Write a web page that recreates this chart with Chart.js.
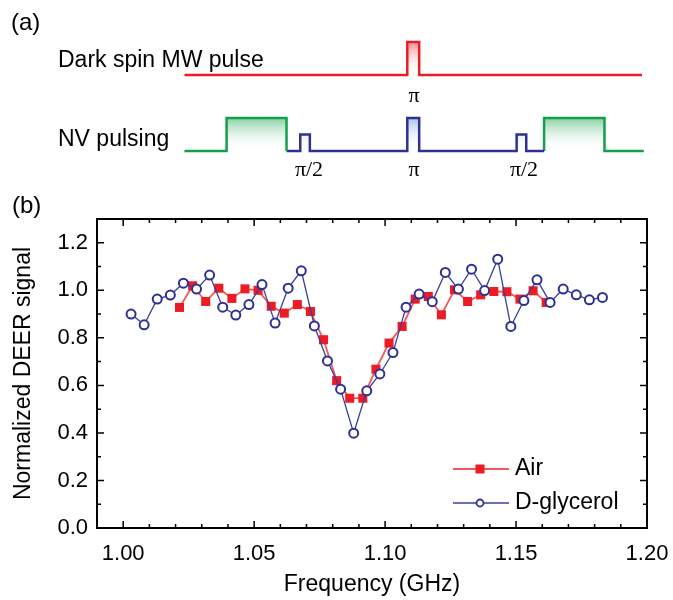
<!DOCTYPE html>
<html>
<head>
<meta charset="utf-8">
<script src="https://cdn.jsdelivr.net/npm/chart.js@4.4.0/dist/chart.umd.min.js"></script>
<style>
body{margin:0;background:#fff;}
#wrap{position:relative;width:673px;height:600px;font-family:"Liberation Sans",Arial,sans-serif;color:#000;}
#wrap canvas{position:absolute;left:0;top:0;}
.lbl{position:absolute;white-space:nowrap;font-size:23px;line-height:23px;}
.pnl{position:absolute;white-space:nowrap;font-size:24px;line-height:24px;}
.pi{position:absolute;white-space:nowrap;font-family:"Liberation Serif","Times New Roman",serif;font-size:22px;line-height:22px;transform:translate(-50%,-50%);}
</style>
</head>
<body>
<div id="wrap">
<canvas id="myBar" width="673" height="600"></canvas>
<canvas id="pulses" width="673" height="200"></canvas>
<div class="pnl" style="left:11px;top:10px;">(a)</div>
<div class="lbl" style="left:58px;top:48px;">Dark spin MW pulse</div>
<div class="lbl" style="left:58px;top:127px;">NV pulsing</div>
<div class="pi" style="left:414px;top:95px;">π</div>
<div class="pi" style="left:309px;top:169px;">π/2</div>
<div class="pi" style="left:414px;top:169px;">π</div>
<div class="pi" style="left:524px;top:169px;">π/2</div>
<div class="pnl" style="left:12px;top:193px;">(b)</div>
</div>
<script>
// D A T O S  (b)
var freqAir = [1.0215, 1.0265, 1.0315, 1.0365, 1.0415, 1.0465, 1.0515, 1.0565, 1.0615, 1.0665,
               1.0715, 1.0765, 1.0815, 1.0865, 1.0915, 1.0965, 1.1015, 1.1065, 1.1115, 1.1165,
               1.1215, 1.1265, 1.1315, 1.1365, 1.1415, 1.1465, 1.1515, 1.1565, 1.1615];
var signalAir = [0.928, 1.019, 0.953, 1.009, 0.966, 1.006, 1.000, 0.933, 0.904, 0.940,
                 0.911, 0.792, 0.620, 0.546, 0.546, 0.668, 0.778, 0.848, 0.963, 0.974,
                 0.897, 1.002, 0.953, 0.981, 0.995, 0.994, 0.963, 0.998, 0.949];
var freqGly = [1.003, 1.008, 1.013, 1.018, 1.023, 1.028, 1.033, 1.038, 1.043, 1.048,
               1.053, 1.058, 1.063, 1.068, 1.073, 1.078, 1.083, 1.088, 1.093, 1.098,
               1.103, 1.108, 1.113, 1.118, 1.123, 1.128, 1.133, 1.138, 1.143, 1.148,
               1.153, 1.158, 1.163, 1.168, 1.173, 1.178, 1.183];
var signalGly = [0.900, 0.855, 0.963, 0.980, 1.030, 1.005, 1.064, 0.929, 0.896, 0.940,
                 1.024, 0.862, 1.009, 1.082, 0.850, 0.703, 0.584, 0.399, 0.577, 0.648,
                 0.738, 0.929, 0.984, 0.952, 1.075, 1.005, 1.089, 0.999, 1.131, 0.848,
                 0.957, 1.044, 0.949, 1.005, 0.981, 0.960, 0.970];
var freqTicks = [1.00, 1.05, 1.10, 1.15, 1.20];

// D A T O S  (a)  tiempos en unidades arbitrarias, amplitud relativa
var mwChannel = 2.3;
var nvChannel = 0;
var mwTime = [0, 48.7, 48.7, 51.3, 51.3, 100];
var mwAmp = [0, 0, 1, 1, 0, 0];
var laserTime1 = [0, 9.2, 9.2, 22.3, 22.3];
var laserAmp1 = [0, 0, 1, 1, 0];
var nvMwTime = [22.3, 25.3, 25.3, 27.4, 27.4, 48.7, 48.7, 51.3, 51.3, 72.6, 72.6, 74.7, 74.7, 78.6];
var nvMwAmp = [0, 0, 0.5, 0.5, 0, 0, 1, 1, 0, 0, 0.5, 0.5, 0, 0];
var laserTime2 = [78.6, 78.6, 91.8, 91.8, 100.4];
var laserAmp2 = [0, 1, 1, 0, 0];

Chart.defaults.font.family = '"Liberation Sans", Arial, sans-serif';
Chart.defaults.color = '#000';

function toPoints(xs, ys, offset){
    return xs.map((x, i) => ({x: x, y: ys[i] + (offset || 0)}));
}

// P U L S O S
function pulseFill(chart, base, colour){
    if(!chart.chartArea){
        return colour;
    }
    var y = chart.scales.y;
    var g = chart.ctx.createLinearGradient(0, y.getPixelForValue(base + 1), 0, y.getPixelForValue(base));
    g.addColorStop(0, colour);
    g.addColorStop(1, 'rgba(255,255,255,0)');
    return g;
}
function pulseSet(xs, ys, base, line, fillColour){
    return {
        data: toPoints(xs, ys, base),
        borderColor: line,
        borderWidth: 2.5,
        pointRadius: 0,
        tension: 0,
        fill: {value: base},
        backgroundColor: ctx => pulseFill(ctx.chart, base, fillColour)
    };
}
const pulseConfig = {
    type: "line",
    data: {
        datasets: [
            pulseSet(mwTime, mwAmp, mwChannel, '#ed1c24', 'rgba(237,28,36,0.5)'),
            pulseSet(laserTime1, laserAmp1, nvChannel, '#12a04a', 'rgba(18,160,74,0.5)'),
            pulseSet(nvMwTime, nvMwAmp, nvChannel, '#2e3192', 'rgba(70,120,210,0.45)'),
            pulseSet(laserTime2, laserAmp2, nvChannel, '#12a04a', 'rgba(18,160,74,0.5)')
        ]
    },
    options: {
        responsive: false,
        animation: false,
        plugins: {legend: {display: false}, tooltip: {enabled: false}},
        scales: {
            x: {type: 'linear', display: false, min: -40.33, max: 106.78},
            y: {display: false, min: -1.485, max: 4.576}
        }
    }
};
new Chart(document.getElementById("pulses").getContext('2d'), pulseConfig);

// M A R C O  Y  T I C K S  hacia dentro
const frameTicks = {
    id: 'frameTicks',
    afterDraw(chart){
        const ctx = chart.ctx;
        const a = chart.chartArea;
        const x = chart.scales.x;
        const y = chart.scales.y;
        ctx.save();
        ctx.strokeStyle = '#000';
        ctx.lineWidth = 1.5;
        ctx.beginPath();
        for(let k = 0; k <= 20; k++){
            const px = x.getPixelForValue(1 + k * 0.01);
            const len = (k % 5 == 0) ? 7 : 4;
            ctx.moveTo(px, a.bottom); ctx.lineTo(px, a.bottom - len);
            ctx.moveTo(px, a.top); ctx.lineTo(px, a.top + len);
        }
        for(let k = 0; k <= 12; k++){
            const py = y.getPixelForValue(k * 0.1);
            const len = (k % 2 == 0) ? 7 : 4;
            ctx.moveTo(a.left, py); ctx.lineTo(a.left + len, py);
            ctx.moveTo(a.right, py); ctx.lineTo(a.right - len, py);
        }
        ctx.stroke();
        ctx.lineWidth = 2;
        ctx.strokeRect(a.left, a.top, a.right - a.left, a.bottom - a.top);
        ctx.restore();
    }
};

// L E Y E N D A  dentro del area
const insideLegend = {
    id: 'insideLegend',
    afterDatasetsDraw(chart){
        const ctx = chart.ctx;
        const a = chart.chartArea;
        const x0 = a.right - 194;
        const rows = [a.bottom - 59, a.bottom - 25];
        ctx.save();
        chart.data.datasets.forEach((ds, i) => {
            const yy = rows[i];
            ctx.strokeStyle = ds.borderColor;
            ctx.lineWidth = ds.borderWidth;
            ctx.beginPath();
            ctx.moveTo(x0, yy);
            ctx.lineTo(x0 + 56, yy);
            ctx.stroke();
            const mx = x0 + 27;
            if(ds.pointStyle == 'rect'){
                ctx.fillStyle = ds.pointBackgroundColor;
                ctx.fillRect(mx - 4.5, yy - 4.5, 9, 9);
            }else{
                ctx.fillStyle = '#fff';
                ctx.strokeStyle = ds.pointBorderColor;
                ctx.lineWidth = 1.8;
                ctx.beginPath();
                ctx.arc(mx, yy, 3.5, 0, Math.PI * 2);
                ctx.fill();
                ctx.stroke();
            }
            ctx.fillStyle = '#000';
            ctx.font = '23px "Liberation Sans", Arial, sans-serif';
            ctx.textBaseline = 'middle';
            ctx.fillText(ds.label, x0 + 62, yy);
        });
        ctx.restore();
    }
};

// D E E R
const data = {
    datasets: [
    {
        label: "Air",
        data: toPoints(freqAir, signalAir),
        borderColor: 'rgba(240,70,78,0.9)',
        borderWidth: 1.8,
        pointStyle: 'rect',
        pointRadius: 6.4,
        pointBorderWidth: 0,
        pointBackgroundColor: '#ed1c24',
        pointBorderColor: '#ed1c24',
        tension: 0,
        order: 1
    },
    {
        label: "D-glycerol",
        data: toPoints(freqGly, signalGly),
        borderColor: '#3b3f9b',
        borderWidth: 1.3,
        pointStyle: 'circle',
        pointRadius: 4.5,
        pointBorderWidth: 2,
        pointBackgroundColor: '#fff',
        pointBorderColor: '#2e3192',
        tension: 0,
        order: 0
    }]
};
const config = {
    type: "line",
    data: data,
    options: {
        responsive: false,
        animation: false,
        layout: {padding: {top: 219, right: 26, bottom: 0, left: 0}},
        plugins: {legend: {display: false}, tooltip: {enabled: false}},
        scales: {
            x: {
                type: 'linear',
                min: 0.99,
                max: 1.20,
                afterFit: s => { s.height = 72; s.paddingLeft = 0; s.paddingRight = 0; },
                afterBuildTicks: s => { s.ticks = freqTicks.map(v => ({value: v})); },
                grid: {display: false, drawTicks: false},
                border: {display: false},
                ticks: {
                    autoSkip: false, maxRotation: 0,
                    padding: 13, font: {size: 22},
                    callback: v => v.toFixed(2)
                },
                title: {display: true, text: 'Frequency (GHz)', font: {size: 23}, padding: {top: 0, bottom: 2}}
            },
            y: {
                min: 0,
                max: 1.3,
                afterFit: s => { s.width = 97; },
                grid: {display: false, drawTicks: false},
                border: {display: false},
                ticks: {
                    stepSize: 0.2, includeBounds: false, padding: 9, font: {size: 22},
                    callback: v => v.toFixed(1)
                },
                title: {display: true, text: 'Normalized DEER signal', font: {size: 23}, padding: {top: 10, bottom: 0}}
            }
        }
    },
    plugins: [frameTicks, insideLegend]
};
var mychart = new Chart(document.getElementById("myBar").getContext('2d'), config);
</script>
</body>
</html>
